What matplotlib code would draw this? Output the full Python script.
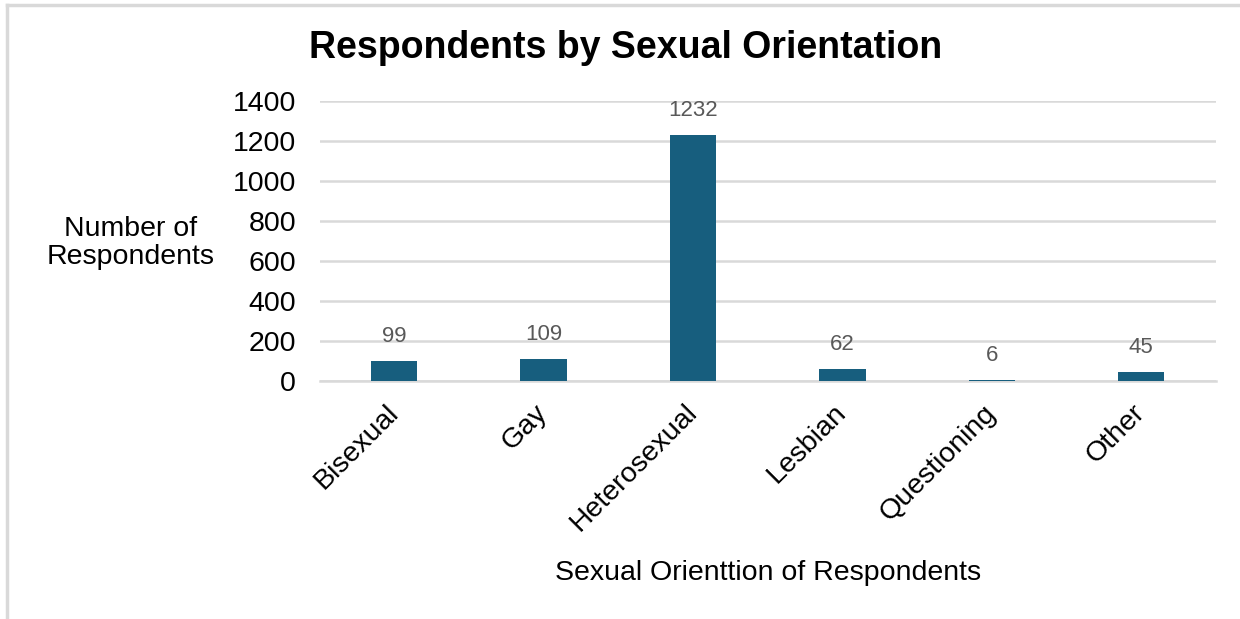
import matplotlib
matplotlib.use("Agg")
import matplotlib.pyplot as plt
from matplotlib.lines import Line2D

categories = ["Bisexual", "Gay", "Heterosexual", "Lesbian", "Questioning", "Other"]
counts = [99, 109, 1232, 62, 6, 45]
y_ticks = [0, 200, 400, 600, 800, 1000, 1200, 1400]

plt.rcParams['font.family'] = ['Liberation Sans', 'DejaVu Sans']

fig = plt.figure(figsize=(12.4, 6.19), dpi=100)
fig.patch.set_facecolor("white")

# chart frame (left and top edges)
fig.add_artist(Line2D([7 / 1240, 7 / 1240], [0, 1 - 5 / 619], color="#d9d9d9", lw=2.5,
                      transform=fig.transFigure))
fig.add_artist(Line2D([7 / 1240, 1], [1 - 5 / 619, 1 - 5 / 619], color="#d9d9d9", lw=2.5,
                      transform=fig.transFigure))

ax = fig.add_axes([319.5 / 1240, 1 - 381 / 619, (1216 - 319.5) / 1240, 280 / 619])
x = range(len(categories))
bars = ax.bar(x, counts, width=0.31, color="#175e7e", zorder=3)

ax.set_ylim(0, 1400)
ax.set_xlim(-0.5, len(categories) - 0.5)
ax.set_yticks(y_ticks)
ax.set_yticklabels([str(v) for v in y_ticks], fontsize=20.5, color="black")
ax.set_xticks(list(x))
ax.set_xticklabels(categories, rotation=45, ha="right", va="center",
                   rotation_mode="anchor", fontsize=20.5, color="black")
ax.tick_params(axis="y", length=0, pad=17)
ax.tick_params(axis="x", length=0, pad=20)

ax.grid(axis="y", color="#d9d9d9", lw=1.8, zorder=0)
for side in ["top", "right", "left"]:
    ax.spines[side].set_visible(False)
ax.spines["bottom"].set_color("#d9d9d9")
ax.spines["bottom"].set_linewidth(1.8)

for b, v in zip(bars, counts):
    ax.annotate(str(v), (b.get_x() + b.get_width() / 2, v), xytext=(0, 10),
                textcoords="offset points", ha="center", va="bottom",
                fontsize=16, color="#595959")

fig.text(626 / 1240, 1 - 48 / 619, "Respondents by Sexual Orientation", ha="center",
         va="center", fontsize=27, fontweight="bold", color="black")
fig.text(131 / 1240, 1 - 243 / 619, "Number of\nRespondents", ha="center", va="center",
         fontsize=20.5, color="black", linespacing=1.1)
fig.text(768 / 1240, 1 - 573 / 619, "Sexual Orienttion of Respondents", ha="center",
         va="center", fontsize=20.5, color="black")

fig.savefig("out.png", dpi=100, facecolor="white")
